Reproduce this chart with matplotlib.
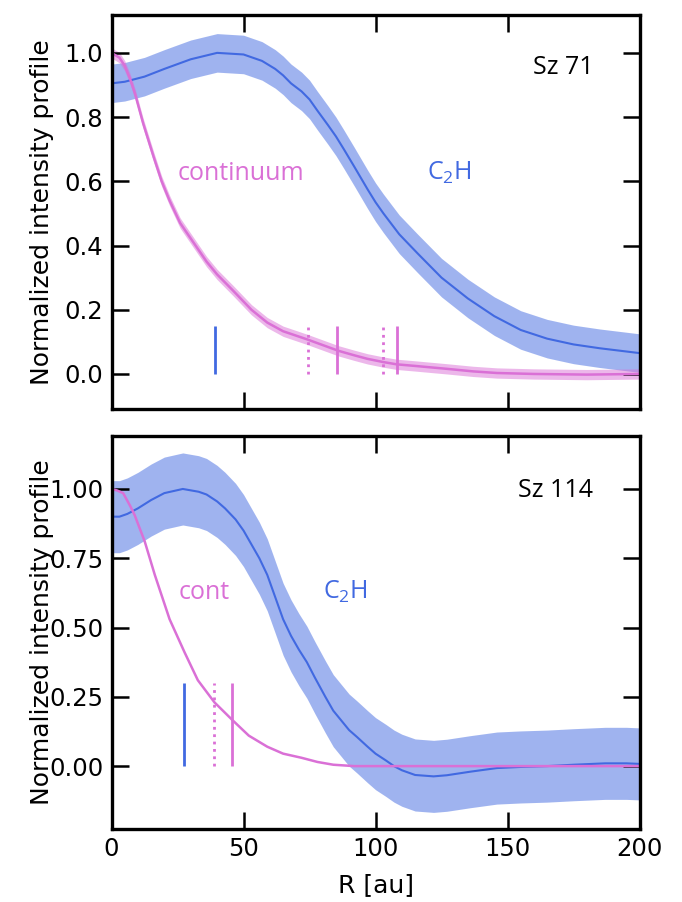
import numpy as np
import matplotlib
matplotlib.use('Agg')
import matplotlib.pyplot as plt

plt.rcParams['font.family'] = ['DejaVu Sans']
plt.rcParams['mathtext.default'] = 'regular'

# ---- Sz 71 ----
r_c2h_71 = [0, 5, 12.5, 20, 30, 40, 50, 57, 62, 65, 68, 72, 75, 78, 82, 85, 88, 92,
            97, 100, 103, 109, 116, 125, 135, 145, 155, 165, 175, 185, 195, 200]
c2h_71 = [0.905, 0.91, 0.926, 0.95, 0.98, 1.0, 0.995, 0.975, 0.95, 0.93, 0.905,
          0.88, 0.855, 0.82, 0.775, 0.74, 0.70, 0.645, 0.575, 0.535, 0.50, 0.435,
          0.375, 0.30, 0.235, 0.18, 0.137, 0.11, 0.092, 0.08, 0.07, 0.065]
c2h_71_err = 0.06

r_cont_71 = [0, 3, 5, 7, 9, 12, 16, 19, 22, 26, 31, 36, 40, 46, 53, 59, 65, 74, 80,
             86, 92, 97, 103, 108, 115, 127, 137, 146, 160, 180, 200]
cont_71 = [1.0, 0.985, 0.96, 0.92, 0.87, 0.78, 0.675, 0.60, 0.54, 0.47, 0.41, 0.35,
           0.31, 0.26, 0.20, 0.16, 0.133, 0.108, 0.09, 0.072, 0.058, 0.047, 0.037,
           0.03, 0.025, 0.016, 0.008, 0.003, 0.0, -0.002, 0.0]
cont_71_err = 0.016

marks_71_c2h = [39.2]
marks_71_cont_dot = [74.5, 103]
marks_71_cont = [85.6, 108]
mark_h_71 = 0.15

# ---- Sz 114 ----
r_c2h_114 = [0, 3, 6, 10, 15, 20, 27, 33, 36, 40, 43, 47, 50, 53, 56, 59, 62, 65,
             68, 71, 74, 77, 81, 84, 87, 90, 93, 97, 100, 104, 107, 110, 115, 122,
             127, 136, 146, 155, 165, 175, 187, 195, 200]
c2h_114 = [0.90, 0.90, 0.91, 0.93, 0.96, 0.985, 1.0, 0.99, 0.98, 0.955, 0.93, 0.89,
           0.85, 0.80, 0.75, 0.69, 0.61, 0.53, 0.47, 0.42, 0.375, 0.32, 0.25, 0.20,
           0.165, 0.13, 0.105, 0.07, 0.045, 0.02, 0.0, -0.015, -0.032, -0.037,
           -0.033, -0.02, -0.007, -0.003, 0.0, 0.005, 0.01, 0.01, 0.008]
c2h_114_err = 0.13

r_cont_114 = [0, 2, 4.4, 7, 8.8, 12.6, 16.4, 22, 27.7, 32.7, 39, 45.7, 52, 59, 65,
              72, 78, 84, 92, 100, 200]
cont_114 = [1.0, 0.995, 0.985, 0.94, 0.905, 0.81, 0.69, 0.53, 0.41, 0.31, 0.23,
            0.167, 0.11, 0.07, 0.045, 0.03, 0.015, 0.005, 0.0, 0.0, 0.0]

marks_114_c2h = [27.3]
marks_114_cont_dot = [39]
marks_114_cont = [45.7]
mark_h_114 = 0.30

blue = 'royalblue'
pink = 'orchid'
ann = ['Open Sans', 'DejaVu Sans']

fig = plt.figure(figsize=(6.82, 9.02), dpi=100)
ax1 = fig.add_axes([0.1635, 0.5466, 0.7742, 0.4368])
ax2 = fig.add_axes([0.1635, 0.0809, 0.7742, 0.4357])

# top panel
x = np.array(r_c2h_71); y = np.array(c2h_71)
ax1.fill_between(x, y - c2h_71_err, y + c2h_71_err, color=blue, alpha=0.5, lw=0)
ax1.plot(x, y, color=blue, lw=1.5)
x = np.array(r_cont_71); y = np.array(cont_71)
ax1.fill_between(x, y - cont_71_err, y + cont_71_err, color=pink, alpha=0.5, lw=0)
ax1.plot(x, y, color=pink, lw=1.8)
ax1.vlines(marks_71_c2h, 0, mark_h_71, color=blue, lw=2)
ax1.vlines(marks_71_cont, 0, mark_h_71, color=pink, lw=2)
ax1.vlines(marks_71_cont_dot, 0, mark_h_71, color=pink, lw=2, linestyles=':')
ax1.text(49, 0.625, 'continuum', color=pink, fontsize=18, family=ann,
         ha='center', va='center')
ax1.text(128, 0.625, 'C$_2$H', color=blue, fontsize=18, family=ann,
         ha='center', va='center')
ax1.text(171, 0.953, 'Sz 71', color='black', fontsize=18, family=ann,
         ha='center', va='center')
ax1.set_ylim(-0.109, 1.118)
ax1.set_yticks([0.0, 0.2, 0.4, 0.6, 0.8, 1.0])
ax1.set_xticklabels([])

# bottom panel
x = np.array(r_c2h_114); y = np.array(c2h_114)
ax2.fill_between(x, y - c2h_114_err, y + c2h_114_err, color=blue, alpha=0.5, lw=0)
ax2.plot(x, y, color=blue, lw=1.5)
ax2.plot(r_cont_114, cont_114, color=pink, lw=1.8)
ax2.vlines(marks_114_c2h, 0, mark_h_114, color=blue, lw=2)
ax2.vlines(marks_114_cont, 0, mark_h_114, color=pink, lw=2)
ax2.vlines(marks_114_cont_dot, 0, mark_h_114, color=pink, lw=2, linestyles=':')
ax2.text(35, 0.628, 'cont', color=pink, fontsize=18, family=ann,
         ha='center', va='center')
ax2.text(88.7, 0.628, 'C$_2$H', color=blue, fontsize=18, family=ann,
         ha='center', va='center')
ax2.text(168, 0.993, 'Sz 114', color='black', fontsize=18, family=ann,
         ha='center', va='center')
ax2.set_ylim(-0.227, 1.191)
ax2.set_yticks([0.0, 0.25, 0.5, 0.75, 1.0])
ax2.set_yticklabels(['0.00', '0.25', '0.50', '0.75', '1.00'])
ax2.set_xlabel('R [au]', fontsize=18)
ax2.xaxis.set_label_coords(0.5, -0.112)

for ax in (ax1, ax2):
    ax.set_xlim(0, 200)
    ax.set_xticks([0, 50, 100, 150, 200])
    ax.tick_params(direction='in', length=12.5, width=1.8, top=True, right=True,
                   labelsize=17.5, pad=6)
    for s in ax.spines.values():
        s.set_linewidth(2.4)
    ax.set_ylabel('Normalized intensity profile', fontsize=18)
    ax.yaxis.set_label_coords(-0.109, 0.5)

fig.savefig('out.png', dpi=100)
